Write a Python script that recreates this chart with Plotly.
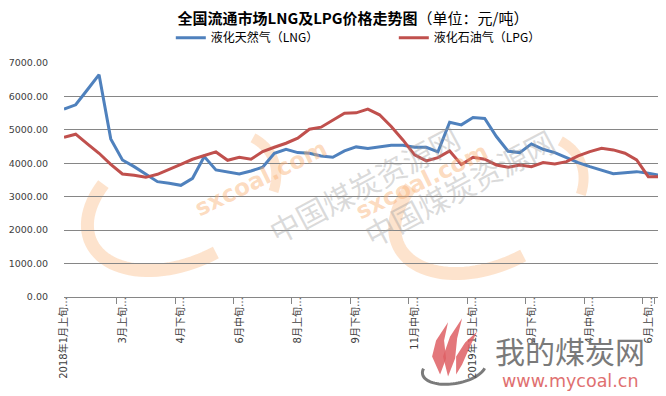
import math
import plotly.graph_objects as go

categories = [
    "2018年1月上旬", "2018年1月中旬", "2018年1月下旬", "2018年2月上旬", "2018年2月下旬",
    "2018年3月上旬", "2018年3月中旬", "2018年3月下旬", "2018年4月上旬", "2018年4月中旬",
    "2018年4月下旬", "2018年5月上旬", "2018年5月中旬", "2018年5月下旬", "2018年6月上旬",
    "2018年6月中旬", "2018年6月下旬", "2018年7月上旬", "2018年7月中旬", "2018年7月下旬",
    "2018年8月上旬", "2018年8月中旬", "2018年8月下旬", "2018年9月上旬", "2018年9月中旬",
    "2018年9月下旬", "2018年10月上旬", "2018年10月中旬", "2018年10月下旬", "2018年11月上旬",
    "2018年11月中旬", "2018年11月下旬", "2018年12月上旬", "2018年12月中旬", "2018年12月下旬",
    "2019年1月上旬", "2019年1月中旬", "2019年1月下旬", "2019年2月上旬", "2019年2月中旬",
    "2019年2月下旬", "2019年3月上旬", "2019年3月中旬", "2019年3月下旬", "2019年4月上旬",
    "2019年4月中旬", "2019年4月下旬", "2019年5月上旬", "2019年5月中旬", "2019年5月下旬",
    "2019年6月上旬", "2019年6月中旬",
]

lng = [5620, 5750, 6200, 6650, 4730, 4100, 3900, 3670, 3450, 3400,
       3340, 3550, 4200, 3800, 3750, 3680, 3770, 3880, 4300, 4420,
       4320, 4300, 4220, 4180, 4370, 4490, 4440, 4480, 4540, 4540,
       4480, 4480, 4340, 5230, 5150, 5370, 5340, 4800, 4360, 4320,
       4580, 4420, 4320, 4170, 4020, 3900, 3800, 3690, 3720, 3750,
       3700, 3640]

lpg = [4780, 4870, 4580, 4300, 3970, 3680, 3640, 3580, 3670, 3830,
       3970, 4120, 4240, 4340, 4090, 4180, 4120, 4350, 4480, 4600,
       4750, 5020, 5080, 5300, 5500, 5510, 5620, 5450, 5100, 4700,
       4250, 4070, 4170, 4370, 3960, 4180, 4120, 3950, 3880, 3950,
       3900, 4020, 3980, 4050, 4220, 4350, 4450, 4400, 4300, 4100,
       3600, 3600]

tick_labels = ["2018年1月上旬…", "3月上旬…", "4月下旬…", "6月中旬…", "8月上旬…",
               "9月下旬…", "11月中旬…", "2019年1月上旬…", "2月下旬…", "4月中旬…", "6月上旬…"]
tick_vals = categories[0::5]

series_names = ["液化天然气（LNG）", "液化石油气（LPG）"]
series_colors = ["#4F81BD", "#C0504D"]

# page is shown with an 8px body margin, so figure coords = page coords - 8
OFF = 8
W, H = 666 - OFF, 396 - OFF
L, R, T = 64.3 - OFF, W - (659.7 - OFF), 63.3 - OFF
B = H - (296.7 - OFF)
PW, PH = W - L - R, H - T - B

CJK = "Noto Sans CJK SC, Noto Sans, sans-serif"
NUM = "DejaVu Sans, Noto Sans CJK SC, sans-serif"

fig = go.Figure()
for name, vals, col in zip(series_names, [lng, lpg], series_colors):
    fig.add_trace(go.Scatter(x=categories, y=vals, mode="lines", name=name,
                             line=dict(color=col, width=3)))


def px2paper(px, py):
    """page pixel -> plot-area paper coords"""
    return (px - OFF - L) / PW, (H - B - (py - OFF)) / PH


def arc_path(cx, cy, rx, ry, rot, t0, t1, n=40):
    pts = []
    r = math.radians(rot)
    for k in range(n + 1):
        t = math.radians(t0 + (t1 - t0) * k / n)
        ex, ey = rx * math.cos(t), ry * math.sin(t)
        px = cx + ex * math.cos(r) - ey * math.sin(r)
        py = cy + ex * math.sin(r) + ey * math.cos(r)
        X, Y = px2paper(px, py)
        pts.append(f"{X:.4f},{Y:.4f}")
    return "M" + " L".join(pts)


def pts_path(points, close=True):
    s = []
    for i, (px, py) in enumerate(points):
        X, Y = px2paper(px, py)
        s.append(("M" if i == 0 else "L") + f"{X:.4f},{Y:.4f}")
    return " ".join(s) + (" Z" if close else "")


shapes = []
annotations = []
ORANGE = "rgba(250,185,130,0.40)"
for dx, dy in [(0, 0), (307, 3)]:
    cx, cy = 182 + dx, 200 + dy
    shapes.append(dict(type="path", xref="paper", yref="paper", layer="below",
                       path=arc_path(cx, cy, 100, 62, -25, 85, 230),
                       line=dict(color=ORANGE, width=13)))
    shapes.append(dict(type="path", xref="paper", yref="paper", layer="below",
                       path=arc_path(cx, cy, 100, 62, -25, -25, 30),
                       line=dict(color=ORANGE, width=10)))
    x1, y1 = px2paper(188 + dx, 178 + dy)
    annotations.append(dict(text="<b>sxcoal.com</b>", x=x1, y=y1, xref="paper", yref="paper",
                            showarrow=False, textangle=-26,
                            font=dict(family="DejaVu Sans, sans-serif", size=23,
                                      color="rgba(250,175,115,0.45)")))
    x2, y2 = px2paper(258 + dx, 184 + dy)
    annotations.append(dict(text="中国煤炭资源网", x=x2, y=y2, xref="paper", yref="paper",
                            showarrow=False, textangle=-28,
                            font=dict(family=CJK, size=30, color="rgba(150,150,150,0.35)")))

# bottom-right site logo: flame tongues + swoosh + text
FLAME = "rgba(222,95,100,0.85)"
flames = [
    [(440, 374), (432, 356), (436, 340), (448, 322), (444, 340), (446, 358)],
    [(448, 376), (443, 356), (450, 336), (462, 318), (457, 338), (455, 358)],
    [(456, 374), (456, 356), (465, 342), (477, 331), (469, 348), (462, 364)],
]
for fl in flames:
    shapes.append(dict(type="path", xref="paper", yref="paper", layer="above",
                       path=pts_path(fl), fillcolor=FLAME, line=dict(width=0)))
shapes.append(dict(type="path", xref="paper", yref="paper", layer="above",
                   path=arc_path(454, 368, 32, 15, -10, 20, 200),
                   line=dict(color="rgba(90,90,90,0.8)", width=3)))
xa, ya = px2paper(570, 350)
annotations.append(dict(text="我的煤炭网", x=xa, y=ya, xref="paper", yref="paper",
                        showarrow=False, xanchor="center", yanchor="middle",
                        font=dict(family=CJK, size=30, color="#7a7a7a")))
xb, yb = px2paper(570, 380)
annotations.append(dict(text="www.mycoal.cn", x=xb, y=yb, xref="paper", yref="paper",
                        showarrow=False, xanchor="center", yanchor="middle",
                        font=dict(family="DejaVu Sans, sans-serif", size=17.5, color="#E07070")))

lx, ly = px2paper(171, 38)
fig.update_layout(
    width=W, height=H,
    margin=dict(l=L, r=R, t=T, b=B, autoexpand=False),
    paper_bgcolor="white", plot_bgcolor="white",
    font=dict(family=CJK, color="#404040"),
    title=dict(text="<b>全国流通市场LNG及LPG价格走势图</b>（单位：元/吨）",
               x=(353 - OFF) / W, xanchor="center", y=1 - (19 - OFF) / H, yanchor="middle",
               font=dict(family=CJK, size=15, color="#000000")),
    legend=dict(orientation="h", x=lx, xanchor="left", y=ly,
                yanchor="middle", font=dict(family=CJK, size=12, color="#000000"),
                entrywidth=178, entrywidthmode="pixels", bgcolor="rgba(0,0,0,0)"),
    xaxis=dict(type="category", tickmode="array", tickvals=tick_vals, ticktext=tick_labels,
               tickson="boundaries", ticks="outside", ticklen=6, tickcolor="#868686",
               tickangle=-90, showline=True, linecolor="#868686", linewidth=1,
               showgrid=False, ticklabelstandoff=-5,
               tickfont=dict(family=NUM, size=10, color="#404040")),
    yaxis=dict(range=[0, 7000], tickmode="array", tickvals=[0, 1000, 2000, 3000, 4000, 5000, 6000, 7000],
               tickformat=".2f", showgrid=True, gridcolor="#868686", gridwidth=1,
               zeroline=False, showline=False, ticks="", ticklabelstandoff=15,
               tickfont=dict(family=NUM, size=9.5, color="#404040")),
    shapes=shapes, annotations=annotations,
)

fig.write_html("out.html")
